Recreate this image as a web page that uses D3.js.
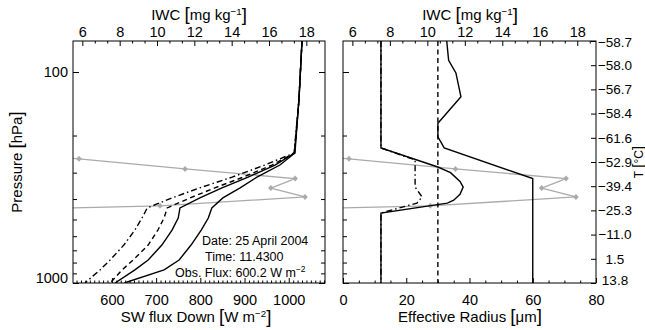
<!DOCTYPE html>
<html>
<head>
<meta charset="utf-8">
<script src="https://cdn.jsdelivr.net/npm/d3@7"></script>
<style>
  body { margin: 0; background: #fff; }
  text { font-family: "Liberation Sans", Arial, sans-serif; fill: #000; }
</style>
</head>
<body>
<svg id="chart" width="645" height="330"></svg>
<script>
// ---- data ----
// SW flux profiles (W m-2) on these pressure levels (hPa)
var fluxP      = [71.3, 136, 242, 276, 315, 354, 395, 441, 492, 561, 661, 778, 867, 1000];
var fluxSolidB = [1030, 1023, 1014, 980, 928, 890, 851, 826, 818, 802, 779, 752, 718, 628];
var fluxSolidA = [1030, 1023, 1013, 969, 908, 849, 799, 754, 750, 736, 713, 682, 652, 607];
var fluxDashed = [1030, 1023, 1013, 962, 897, 833, 777, 725, 718, 704, 682, 648, 623, 596];
var fluxDashDot= [1030, 1023, 1012, 946, 872, 799, 736, 680, 668, 652, 627, 596, 573, 539];

// effective radius profiles (um)
var reSolidAP  = [71.3, 229, 282, 300, 330, 351, 380, 405, 418, 466, 1000];
var reSolidA   = [12, 12, 30, 34, 37, 38, 37, 35, 33, 12, 12];
var reSolidBP  = [71.3, 88, 101, 131, 175, 203, 229, 320, 1000];
var reSolidB   = [32.8, 33.4, 35.7, 37.3, 30, 30, 32, 60, 60];
var reDashedP  = [71.3, 1000];
var reDashed   = [30, 30];
var reDashDotP = [71.3, 229, 261, 351, 391, 418, 466, 1000];
var reDashDot  = [12, 12, 22.8, 22.8, 25, 23.4, 12, 12];

// ice water content profile (mg kg-1)
var iwcP = [234, 258, 288, 320, 355, 391, 431, 453];
var iwc  = [0, 5.82, 11.5, 17.4, 16.1, 17.93, 10.16, 0];

// axis ticks and labels
var pMajor = [100, 1000];
var pMinor = [200, 300, 400, 500, 600, 700, 800, 900];
var fluxTicks = [600, 700, 800, 900, 1000];
var iwcTicks = [6, 8, 10, 12, 14, 16, 18];
var reTicks = [0, 20, 40, 60, 80];
var tempLabels = ["13.8", "1.5", "\u221211.0", "\u221225.3", "\u221239.4", "\u221252.9",
                  "\u221261.6", "\u221258.4", "\u221256.7", "\u221258.0", "\u221258.7"];

// ---- layout ----
var yTop = 41, yBot = 283;
var L = {x0: 73, x1: 325}, R = {x0: 343, x1: 596};
var svg = d3.select("#chart");

var y = d3.scaleLog().domain([1000, 71.3]).range([yBot, yTop]);
var xFlux = d3.scaleLinear().domain([512, 1082]).range([L.x0, L.x1]);
var xIwcL = d3.scaleLinear().domain([5.5, 19]).range([L.x0, L.x1]);
var xIwcR = d3.scaleLinear().domain([5.5, 19]).range([R.x0, R.x1]);
var xRe = d3.scaleLinear().domain([0, 80]).range([R.x0, R.x1]);
var yTemp = d3.scalePoint().domain(tempLabels).range([yBot, yTop]);

function pairs(ps, vs) { return ps.map(function(p, i) { return {p: p, v: vs[i]}; }); }

function styleAxis(g, size) {
  g.select(".domain").remove();
  g.selectAll(".tick line").attr("stroke", "#000");
  g.selectAll("text").attr("font-family", "Liberation Sans, Arial, sans-serif")
    .attr("font-size", size || 14.5).attr("fill", "#000");
}

function minorRange(a, b, step, majors) {
  return d3.range(a, b + 1e-9, step).filter(function(v) {
    return !majors.some(function(m) { return Math.abs(m - v) < 1e-6; });
  });
}

// clip paths
var defs = svg.append("defs");
[["clipL", L], ["clipR", R]].forEach(function(c) {
  defs.append("clipPath").attr("id", c[0]).append("rect")
    .attr("x", c[1].x0).attr("y", yTop)
    .attr("width", c[1].x1 - c[1].x0).attr("height", yBot - yTop);
});

function drawPressureAxes(panel, labels) {
  var gl = svg.append("g").attr("transform", "translate(" + panel.x0 + ",0)");
  gl.call(d3.axisLeft(y).tickValues(pMajor).tickSize(-6).tickPadding(5)
    .tickFormat(labels ? d3.format("d") : ""));
  styleAxis(gl);
  if (labels) {
    gl.selectAll("text").attr("y", function(d) { return d === 1000 ? -5 : 0; });
  }
  var gl2 = svg.append("g").attr("transform", "translate(" + panel.x0 + ",0)");
  gl2.call(d3.axisLeft(y).tickValues(pMinor).tickSize(-4).tickFormat(""));
  styleAxis(gl2);
}

function drawIwcTop(scale) {
  var g = svg.append("g").attr("transform", "translate(0," + yTop + ")");
  g.call(d3.axisTop(scale).tickValues(iwcTicks).tickSize(-5).tickPadding(4)
    .tickFormat(d3.format("d")));
  styleAxis(g);
  var g2 = svg.append("g").attr("transform", "translate(0," + yTop + ")");
  g2.call(d3.axisTop(scale).tickValues(minorRange(6, 19, 2 / 3, iwcTicks))
    .tickSize(-2.5).tickFormat(""));
  styleAxis(g2);
}

// ---- left panel axes ----
drawPressureAxes(L, true);
var glr = svg.append("g").attr("transform", "translate(" + L.x1 + ",0)");
glr.call(d3.axisRight(y).tickValues(pMajor).tickSize(-6).tickFormat(""));
styleAxis(glr);
var glr2 = svg.append("g").attr("transform", "translate(" + L.x1 + ",0)");
glr2.call(d3.axisRight(y).tickValues(pMinor).tickSize(-4).tickFormat(""));
styleAxis(glr2);

var gfb = svg.append("g").attr("transform", "translate(0," + yBot + ")");
gfb.call(d3.axisBottom(xFlux).tickValues(fluxTicks).tickSize(-5).tickPadding(12)
  .tickFormat(d3.format("d")));
styleAxis(gfb);
var gfb2 = svg.append("g").attr("transform", "translate(0," + yBot + ")");
gfb2.call(d3.axisBottom(xFlux).tickValues(minorRange(520, 1080, 10, fluxTicks))
  .tickSize(-2.5).tickFormat(""));
styleAxis(gfb2);
drawIwcTop(xIwcL);

// ---- right panel axes ----
drawPressureAxes(R, false);
var grr = svg.append("g").attr("transform", "translate(" + R.x1 + ",0)");
grr.call(d3.axisRight(yTemp).tickSize(-5).tickPadding(19));
styleAxis(grr, 13.5);
grr.selectAll("text").attr("text-anchor", "middle")
  .attr("y", function(d, i) { return i === 0 ? -3 : (i === tempLabels.length - 1 ? 1.5 : 0); });

var grb = svg.append("g").attr("transform", "translate(0," + yBot + ")");
grb.call(d3.axisBottom(xRe).tickValues(reTicks).tickSize(-5).tickPadding(12)
  .tickFormat(d3.format("d")));
styleAxis(grb);
var grb2 = svg.append("g").attr("transform", "translate(0," + yBot + ")");
grb2.call(d3.axisBottom(xRe).tickValues(minorRange(0, 80, 5, reTicks))
  .tickSize(-2.5).tickFormat(""));
styleAxis(grb2);
drawIwcTop(xIwcR);

// ---- curves ----
var styles = {
  solid: null,
  dashed: "5,3.5",
  dashdot: "6,3,1.5,3"
};

function drawLine(clip, xs, data, dash, color, width) {
  var line = d3.line().x(function(d) { return xs(d.v); }).y(function(d) { return y(d.p); });
  svg.append("path").datum(data)
    .attr("clip-path", "url(#" + clip + ")")
    .attr("fill", "none")
    .attr("stroke", color || "#000")
    .attr("stroke-width", width || 1.4)
    .attr("stroke-dasharray", dash)
    .attr("d", line);
}

function drawIwc(clip, xs) {
  var data = pairs(iwcP, iwc);
  drawLine(clip, xs, data, null, "#aaaaaa", 1.3);
  svg.append("g").attr("clip-path", "url(#" + clip + ")")
    .selectAll("path").data(data).enter().append("path")
    .attr("transform", function(d) { return "translate(" + xs(d.v) + "," + y(d.p) + ")"; })
    .attr("d", "M0,-3L2.8,0L0,3L-2.8,0Z")
    .attr("fill", "#aaaaaa");
}

// left: SW flux
drawIwc("clipL", xIwcL);
drawLine("clipL", xFlux, pairs(fluxP, fluxSolidB), styles.solid);
drawLine("clipL", xFlux, pairs(fluxP, fluxSolidA), styles.solid);
drawLine("clipL", xFlux, pairs(fluxP, fluxDashed), styles.dashed);
drawLine("clipL", xFlux, pairs(fluxP, fluxDashDot), styles.dashdot);

// right: effective radius
drawIwc("clipR", xIwcR);
drawLine("clipR", xRe, pairs(reSolidBP, reSolidB), styles.solid);
drawLine("clipR", xRe, pairs(reSolidAP, reSolidA), styles.solid);
drawLine("clipR", xRe, pairs(reDashedP, reDashed), styles.dashed);
drawLine("clipR", xRe, pairs(reDashDotP, reDashDot), styles.dashdot);

// frames
[L, R].forEach(function(p) {
  svg.append("rect").attr("x", p.x0).attr("y", yTop)
    .attr("width", p.x1 - p.x0).attr("height", yBot - yTop)
    .attr("fill", "none").attr("stroke", "#000").attr("stroke-width", 1);
});

// ---- titles ----
function unitTitle(x, yy, parts, rotate, size) {
  var fs = size || 15;
  var t = svg.append("text").attr("font-size", fs).attr("text-anchor", "middle");
  if (rotate) t.attr("transform", "translate(" + x + "," + yy + ") rotate(-90)");
  else t.attr("x", x).attr("y", yy);
  parts.forEach(function(p) {
    var s = t.append("tspan").text(p.t);
    if (p.sup) s.attr("font-size", fs * 0.65).attr("dy", "-0.55em");
    if (p.down) s.attr("dy", "0.35em");
    if (p.big) s.attr("font-size", fs * 1.25);
  });
  return t;
}

unitTitle(199, 20, [{t: "IWC "}, {t: "[", big: true}, {t: "mg kg"}, {t: "\u22121", sup: true},
  {t: "]", big: true, down: true}]);
unitTitle(470, 20, [{t: "IWC "}, {t: "[", big: true}, {t: "mg kg"}, {t: "\u22121", sup: true},
  {t: "]", big: true, down: true}]);
unitTitle(196, 322, [{t: "SW flux Down "}, {t: "[", big: true}, {t: "W m"}, {t: "\u22122", sup: true},
  {t: "]", big: true, down: true}]);
unitTitle(470, 322, [{t: "Effective Radius "}, {t: "[", big: true}, {t: "\u03bcm"}, {t: "]", big: true}]);
unitTitle(22, 162, [{t: "Pressure "}, {t: "[", big: true}, {t: "hPa"}, {t: "]", big: true}], true);
unitTitle(643, 162, [{t: "T "}, {t: "[", big: true}, {t: "\u00b0C"}, {t: "]", big: true}], true, 12);

// annotation
var note = svg.append("g");
note.append("text").attr("x", 202).attr("y", 245).attr("font-size", 12.5).text("Date: 25 April 2004");
note.append("text").attr("x", 205).attr("y", 261).attr("font-size", 12.5).text("Time: 11.4300");
var obs = note.append("text").attr("x", 175).attr("y", 277).attr("font-size", 12.5);
obs.append("tspan").text("Obs. Flux: 600.2 W m");
obs.append("tspan").attr("font-size", 8.5).attr("dy", "-0.6em").text("\u22122");
</script>
</body>
</html>
